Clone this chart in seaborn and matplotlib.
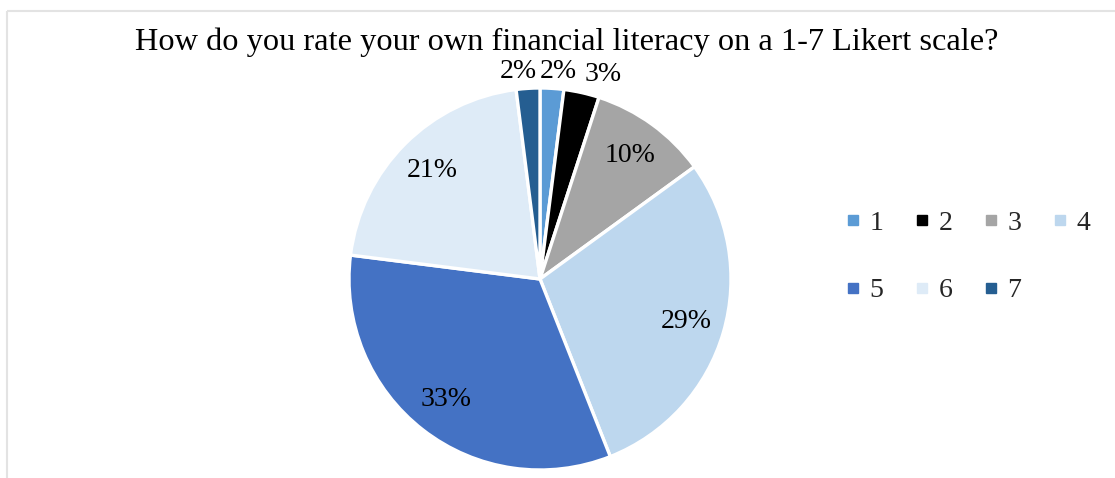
import numpy as np
import matplotlib
matplotlib.use("Agg")
import matplotlib.pyplot as plt
from matplotlib.lines import Line2D
import seaborn as sns

sns.set_theme(style="white")
plt.rcParams["font.family"] = ["Liberation Serif", "DejaVu Serif"]

# Survey answers: self-rated financial literacy (share of respondents, %)
categories = ["1", "2", "3", "4", "5", "6", "7"]
shares = [2, 3, 10, 29, 33, 21, 2]
colors = ["#5B9BD5", "#000000", "#A5A5A5", "#BDD7EE", "#4472C4", "#DEEBF7", "#255E91"]
title = "How do you rate your own financial literacy on a 1-7 Likert scale?"

W, H = 1115, 478
fig = plt.figure(figsize=(W / 100, H / 100), dpi=100)
ax = fig.add_axes([0, 0, 1, 1])

# chart-area frame (top and left edges visible)
ax.plot([7, 7], [0, H - 10.5], color="#E3E3E3", lw=1.5, solid_capstyle="butt")
ax.plot([7, W], [H - 10.5, H - 10.5], color="#E3E3E3", lw=1.5, solid_capstyle="butt")

cx, cy, R = 540, H - 279, 191
wedges, _ = ax.pie(
    shares, colors=colors, startangle=90, counterclock=False,
    center=(cx, cy), radius=R, frame=True,
    wedgeprops=dict(edgecolor="white", linewidth=2.4),
)
ax.set_xlim(0, W)
ax.set_ylim(0, H)
ax.set_aspect("equal")
ax.axis("off")

# label placement: (radius factor, angular nudge in degrees, clockwise)
label_pos = [(1.09, 1.5), (1.12, 4.5), (0.80, 0), (0.80, 0), (0.80, 0), (0.80, 0), (1.09, -2.5)]
cum = np.cumsum([0] + shares[:-1])
for i, (v, c0) in enumerate(zip(shares, cum)):
    mid = (c0 + v / 2) / sum(shares) * 360 + label_pos[i][1]
    r = label_pos[i][0] * R
    x = cx + r * np.sin(np.radians(mid))
    y = cy + r * np.cos(np.radians(mid))
    ax.text(x, y, f"{v}%", ha="center", va="center", fontsize=20, color="black")

ax.text(567, H - 42, title, ha="center", va="center", fontsize=23.3, color="black")

# legend laid out row by row (matplotlib fills columns first)
handles = [Line2D([], [], marker="s", linestyle="none", markersize=6.5,
                  markerfacecolor=c, markeredgecolor=c) for c in colors]
order = [0, 4, 1, 5, 2, 6, 3]
ax.legend([handles[i] for i in order], [categories[i] for i in order],
          ncol=4, frameon=False, fontsize=20,
          loc="center left", bbox_to_anchor=(846 / W, 1 - 257 / H),
          handlelength=0.5, handletextpad=0.35, columnspacing=1.13,
          labelspacing=1.5, borderaxespad=0, borderpad=0)

fig.savefig("out.png", dpi=100)
